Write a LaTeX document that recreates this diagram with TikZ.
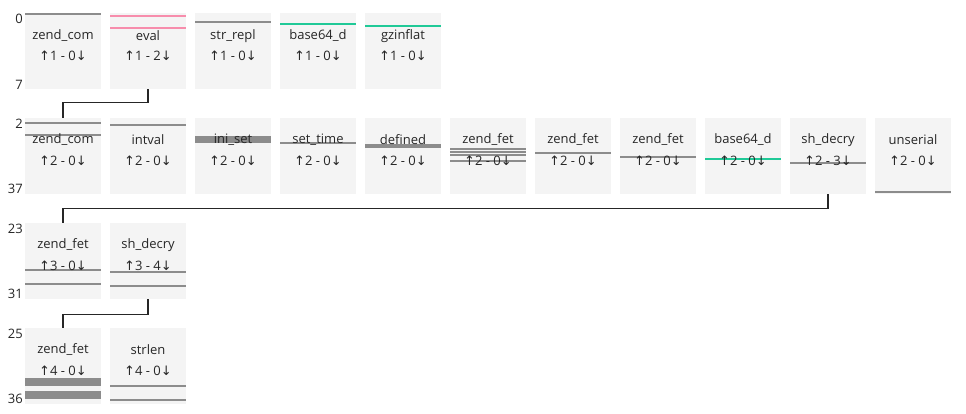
\documentclass[tikz,border=0pt]{standalone}
\usepackage{fontspec}
\setmainfont{Open Sans}
\newfontfamily\arrowfont{DejaVu Sans}
\usetikzlibrary{positioning}
\definecolor{boxfill}{HTML}{F4F4F4}
\definecolor{hitgray}{HTML}{8C8C8C}
\definecolor{hitpink}{HTML}{F78DAC}
\definecolor{hitgreen}{HTML}{20C997}
\definecolor{linkgray}{HTML}{262626}
\newcommand{\calls}[2]{{\arrowfont ↑}#1 - #2{\arrowfont ↓}}

\begin{document}
\begin{tikzpicture}[
  x=1pt,y=-1pt,
  fnbox/.style={fill=boxfill,minimum width=76pt,minimum height=76pt,inner sep=0pt},
  fnname/.style={font=\fontsize{13}{15}\selectfont,text=black!85,inner sep=0pt},
  axislbl/.style={fnname,anchor=east},
  hit/.style={draw=hitgray,line width=2pt},
  hitp/.style={draw=hitpink,line width=2.3pt},
  hitg/.style={draw=hitgreen,line width=2.3pt},
  link/.style={draw=linkgray,line width=1.3pt}
]
\useasboundingbox (0,0) rectangle (966,413);

% boxes
\foreach \i in {0,...,4}{\node[fnbox] (r1c\i) at (63+85*\i,51) {};}
\foreach \i in {0,...,10}{\node[fnbox] (r2c\i) at (63+85*\i,156) {};}
\foreach \i in {0,1}{\node[fnbox] (r3c\i) at (63+85*\i,261) {};}
\foreach \i in {0,1}{\node[fnbox] (r4c\i) at (63+85*\i,366) {};}

% call marks
\draw[hit] (25,14.3) -- ++(76,0);
\draw[hitp] (110,16) -- ++(76,0) (110,28.3) -- ++(76,0);
\draw[hit] (195,22.3) -- ++(76,0);
\draw[hitg] (280,24.3) -- ++(76,0);
\draw[hitg] (365,26) -- ++(76,0);

\draw[hit] (25,123.3) -- ++(76,0) (25,135) -- ++(76,0);
\draw[hit] (110,125.3) -- ++(76,0);
\draw[hit,line width=6.5pt] (195,139.5) -- ++(76,0);
\draw[hit] (280,143) -- ++(76,0);
\draw[hit,line width=3.7pt] (365,146) -- ++(76,0);
\draw[hit] (450,149.3) -- ++(76,0) (450,151.7) -- ++(76,0)
  (450,155.3) -- ++(76,0) (450,160.7) -- ++(76,0);
\draw[hit] (535,153) -- ++(76,0);
\draw[hit] (620,157) -- ++(76,0);
\draw[hitg] (705,159) -- ++(76,0);
\draw[hit] (790,162.7) -- ++(76,0);
\draw[hit] (875,192) -- ++(76,0);

\draw[hit] (25,270.3) -- ++(76,0) (25,283.7) -- ++(76,0);
\draw[hit] (110,272) -- ++(76,0) (110,286) -- ++(76,0);

\draw[hit,line width=8pt] (25,381.5) -- ++(76,0) (25,395.3) -- ++(76,0);
\draw[hit] (110,386) -- ++(76,0) (110,400.3) -- ++(76,0);

% row 1: depth 0 .. 7
\foreach \i/\nm/\dn in {0/zend\_com/0,1/eval/2,2/str\_repl/0,3/base64\_d/0,4/gzinflat/0}{
  \node[fnname] (r1n\i) at (63+85*\i,36) {\nm};
  \node[fnname] (r1k\i) at (63+85*\i,56) {\calls{1}{\dn}};
}
\node[axislbl] (r1top) at (23,19) {0};
\node[axislbl] (r1bot) at (23,85) {7};

% row 2: depth 2 .. 37
\foreach \i/\nm/\dn in {0/zend\_com/0,1/intval/0,2/ini\_set/0,3/set\_time/0,4/defined/0,
    5/zend\_fet/0,6/zend\_fet/0,7/zend\_fet/0,8/base64\_d/0,9/sh\_decry/3,10/unserial/0}{
  \node[fnname] (r2n\i) at (63+85*\i,140) {\nm};
  \node[fnname] (r2k\i) at (63+85*\i,161) {\calls{2}{\dn}};
}
\node[axislbl] (r2top) at (23,124) {2};
\node[axislbl] (r2bot) at (23,189) {37};

% row 3: depth 23 .. 31
\foreach \i/\nm/\dn in {0/zend\_fet/0,1/sh\_decry/4}{
  \node[fnname] (r3n\i) at (63+85*\i,245) {\nm};
  \node[fnname] (r3k\i) at (63+85*\i,266) {\calls{3}{\dn}};
}
\node[axislbl] (r3top) at (23,229) {23};
\node[axislbl] (r3bot) at (23,294) {31};

% row 4: depth 25 .. 36
\foreach \i/\nm in {0/zend\_fet,1/strlen}{
  \node[fnname] (r4n\i) at (63+85*\i,350) {\nm};
  \node[fnname] (r4k\i) at (63+85*\i,371) {\calls{4}{0}};
}
\node[axislbl] (r4top) at (23,334) {25};
\node[axislbl] (r4bot) at (23,399) {36};

% links between rows
\draw[link] (r1c1.south) -- ++(0,13) -| (r2c0.north);
\draw[link] (r2c9.south) -- ++(0,14) -| (r3c0.north);
\draw[link] (r3c1.south) -- ++(0,15) -| (r4c0.north);
\end{tikzpicture}
\end{document}
